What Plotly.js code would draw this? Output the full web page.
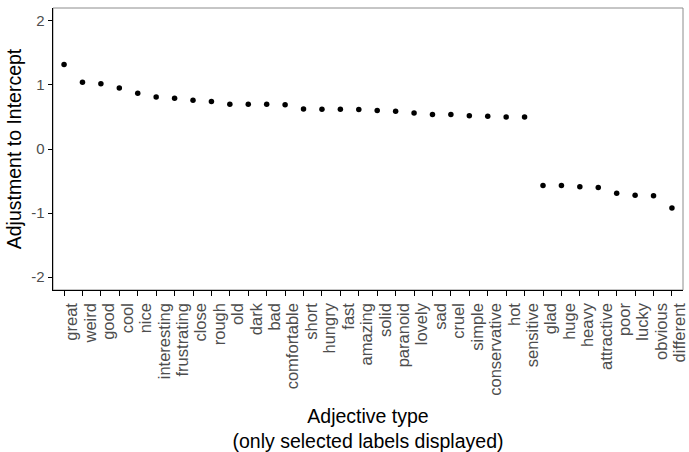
<!DOCTYPE html>
<html>
<head>
<meta charset="utf-8">
<script src="https://cdn.plot.ly/plotly-3.0.1.min.js"></script>
<style>html,body{margin:0;padding:0;background:#fff;}#chart{width:689px;height:452px;}</style>
</head>
<body>
<div id="chart"></div>
<script>
const adjectives = ["great","weird","good","cool","nice","interesting","frustrating","close","rough","old","dark","bad","comfortable","short","hungry","fast","amazing","solid","paranoid","lovely","sad","cruel","simple","conservative","hot","sensitive","glad","huge","heavy","attractive","poor","lucky","obvious","different"];
const adjustment = [1.32,1.04,1.02,0.95,0.87,0.81,0.79,0.76,0.74,0.70,0.70,0.70,0.69,0.625,0.62,0.62,0.615,0.60,0.59,0.56,0.54,0.54,0.52,0.51,0.50,0.50,-0.57,-0.57,-0.59,-0.60,-0.69,-0.72,-0.73,-0.92];
const yTicks = [-2,-1,0,1,2];

const font = "Liberation Sans, Arial, sans-serif";
const trace = {
  type: "scatter", mode: "markers",
  x: adjectives, y: adjustment,
  marker: {color: "#000000", size: 5.5},
  hoverinfo: "x+y"
};
const layout = {
  width: 689, height: 452,
  margin: {l: 53, r: 6, t: 8, b: 162},
  paper_bgcolor: "#ffffff", plot_bgcolor: "#ffffff",
  showlegend: false,
  font: {family: font, color: "#000000"},
  xaxis: {
    type: "category", categoryorder: "array", categoryarray: adjectives,
    range: [-0.6, adjectives.length - 0.4],
    tickmode: "array", tickvals: adjectives, ticktext: adjectives,
    showgrid: false, zeroline: false,
    showline: true, linecolor: "#000000", linewidth: 1,
    ticks: "outside", ticklen: 4.5, tickwidth: 1, tickcolor: "#000000",
    tickangle: -90, ticklabelshift: 8, ticklabelstandoff: 1,
    tickfont: {family: font, size: 16.5, color: "#4D4D4D"},
    title: {text: "Adjective type<br>(only selected labels displayed)", font: {family: font, size: 19.5, color: "#000000"}, standoff: 17},
    automargin: false
  },
  yaxis: {
    range: [-2.2, 2.2],
    tickvals: yTicks, ticktext: yTicks.map(String),
    showgrid: false, zeroline: false,
    showline: true, linecolor: "#000000", linewidth: 1,
    ticks: "outside", ticklen: 4.5, tickwidth: 1, tickcolor: "#000000",
    tickfont: {family: font, size: 15, color: "#4D4D4D"},
    title: {text: "Adjustment to Intercept", font: {family: font, size: 19.5, color: "#000000"}, standoff: 4},
    automargin: false
  },
  shapes: [{
    type: "rect", xref: "paper", yref: "paper", x0: 0, x1: 1, y0: 0, y1: 1,
    line: {color: "#8C8C8C", width: 1}, fillcolor: "rgba(0,0,0,0)", layer: "below"
  }]
};
Plotly.newPlot("chart", [trace], layout, {displayModeBar: false, staticPlot: true});
</script>
</body>
</html>
